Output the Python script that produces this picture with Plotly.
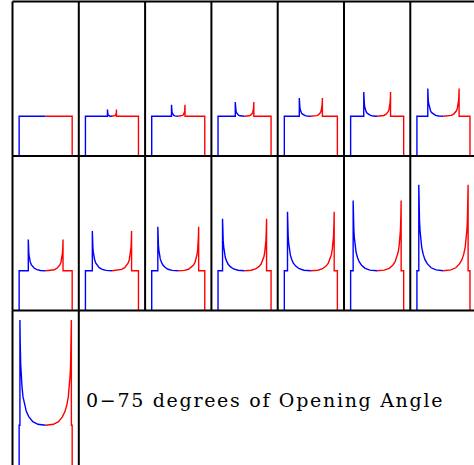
import plotly.graph_objects as go

# ---- data ----
ANGLES = [0, 10, 15, 20, 25, 30, 35, 40, 45, 50, 55, 60, 65, 70, 75]
HORN_POS = [0.0, 0.17, 0.255, 0.35, 0.435, 0.505, 0.59, 0.655, 0.74, 0.77, 0.83, 0.88, 0.905, 0.93, 0.97]
HORN_PEAK = [0.0, 0.17, 0.29, 0.36, 0.46, 0.61, 0.70, 0.79, 1.0, 1.11, 1.31, 1.49, 1.77, 2.17, 2.65]
PLATEAU = 1.0
EDGE = 1.0
# horn decay profile (position relative to horn, fraction of peak excess)
SHAPE_U = [1.0, 0.99, 0.97, 0.95, 0.92, 0.88, 0.82, 0.75, 0.65, 0.5, 0.3, 0.0]
SHAPE_F = [1.0, 0.8, 0.58, 0.47, 0.37, 0.27, 0.19, 0.13, 0.08, 0.035, 0.01, 0.0]
LABEL = "0\u221275 degrees of Opening Angle"

# ---- layout geometry ----
W, H = 474, 465
X0, CW = 12.5, 66.3
Y0, RH = 1.5, 154.5
NCOL = 7
XR = (-1.25, 1.25)
PX_PER_X = CW / (XR[1] - XR[0])
UNIT_PX = 39.7
YR = (0, RH / UNIT_PX)

fig = go.Figure()
layout = {}
for k in range(len(ANGLES)):
    r, c = divmod(k, NCOL)
    left = X0 + c * CW
    right = min(W, left + CW)
    top = Y0 + r * RH
    bottom = min(H, top + RH)
    xmax = XR[0] + (right - left) / PX_PER_X
    ymin = YR[1] - (bottom - top) / UNIT_PX
    sfx = "" if k == 0 else str(k + 1)
    layout["xaxis" + sfx] = dict(domain=[left / W, right / W], range=[XR[0], xmax],
                                 visible=False, anchor="y" + sfx, fixedrange=True)
    layout["yaxis" + sfx] = dict(domain=[1 - bottom / H, 1 - top / H],
                                 range=[ymin, YR[1]], visible=False,
                                 anchor="x" + sfx, fixedrange=True)
    a, p = HORN_POS[k], HORN_PEAK[k]
    bx = [-EDGE, -EDGE, -a] + [-a * u for u in SHAPE_U]
    by = [0, PLATEAU, PLATEAU] + [PLATEAU + p * f for f in SHAPE_F]
    rx = [-v for v in bx[::-1]]
    ry = by[::-1]
    fig.add_trace(go.Scatter(x=bx, y=by, mode="lines", line=dict(color="#0000ff", width=1.4),
                             xaxis="x" + sfx, yaxis="y" + sfx, showlegend=False, hoverinfo="skip"))
    fig.add_trace(go.Scatter(x=rx, y=ry, mode="lines", line=dict(color="#ff0000", width=1.4),
                             xaxis="x" + sfx, yaxis="y" + sfx, showlegend=False, hoverinfo="skip"))

# panel borders
shapes = []
lw = 2
def hline(y, x1, x2):
    shapes.append(dict(type="line", xref="paper", yref="paper", x0=x1 / W, x1=x2 / W,
                       y0=1 - y / H, y1=1 - y / H, line=dict(color="black", width=lw)))
def vline(x, y1, y2):
    shapes.append(dict(type="line", xref="paper", yref="paper", x0=x / W, x1=x / W,
                       y0=1 - y1 / H, y1=1 - y2 / H, line=dict(color="black", width=lw)))
for r in range(3):
    hline(Y0 + r * RH, X0, W)
for c in range(NCOL):
    vline(X0 + c * CW, Y0, Y0 + 2 * RH)
for c in range(2):
    vline(X0 + c * CW, Y0 + 2 * RH, H)

fig.update_layout(
    width=W, height=H, margin=dict(l=0, r=0, t=0, b=0),
    paper_bgcolor="white", plot_bgcolor="white", showlegend=False,
    shapes=shapes,
    annotations=[dict(text='<span style="letter-spacing:1.7px">' + LABEL + '</span>',
                      xref="paper", yref="paper", x=84 / W, y=1 - 400 / H,
                      xanchor="left", yanchor="middle", showarrow=False,
                      font=dict(family="DejaVu Serif", size=19, color="black"))],
    **layout,
)
fig.write_html("out.html", config={"displayModeBar": False, "staticPlot": True},
               post_script="document.body.style.margin='0';document.body.style.overflow='hidden';")
